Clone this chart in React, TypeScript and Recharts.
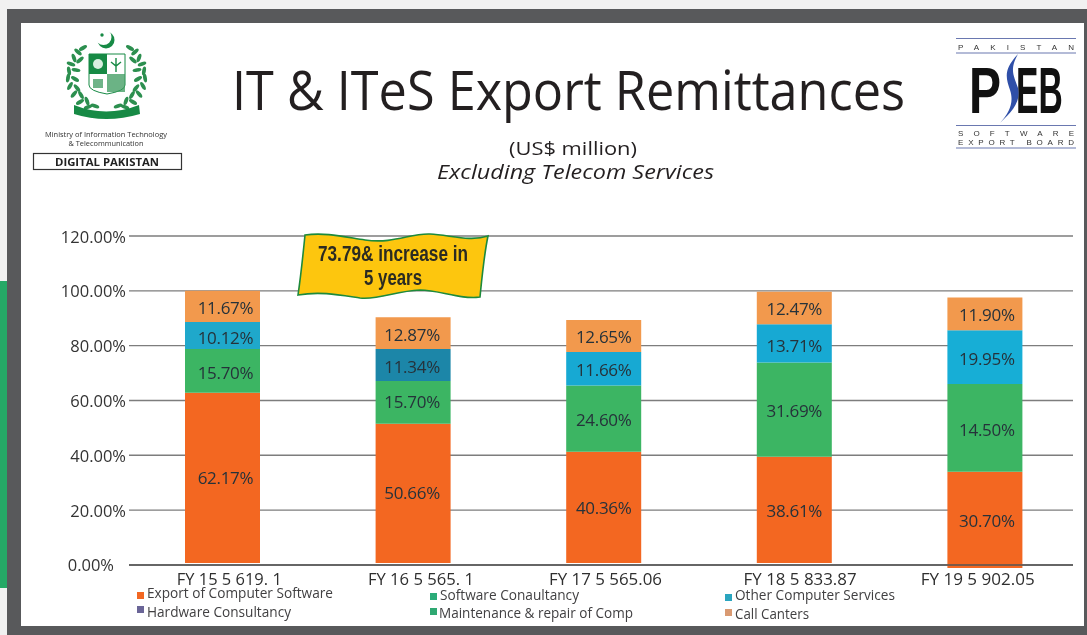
import React from "react";
import { BarChart, Bar, XAxis, YAxis, CartesianGrid, LabelList, Cell, ReferenceLine } from "recharts";

const categories = ["FY 15 5 619. 1", "FY 16 5 565. 1", "FY 17 5 565.06", "FY 18 5 833.87", "FY 19 5 902.05"];
const baseGap = [0.7, 0.7, 0.7, 0.7, -1.1];
const exportSoftware = [62.1, 50.8, 40.6, 38.8, 35.1];
const maintenance = [16.0, 15.6, 24.2, 34.4, 32.0];
const otherServices = [9.8, 11.7, 12.2, 13.9, 19.6];
const callCenters = [11.4, 11.6, 11.7, 11.9, 12.0];
const exportLabels = ["62.17%", "50.66%", "40.36%", "38.61%", "30.70%"];
const maintenanceLabels = ["15.70%", "15.70%", "24.60%", "31.69%", "14.50%"];
const otherLabels = ["10.12%", "11.34%", "11.66%", "13.71%", "19.95%"];
const callLabels = ["11.67%", "12.87%", "12.65%", "12.47%", "11.90%"];
const yTicks = [0, 20, 40, 60, 80, 100, 120];
const legendNames = ["Export of Computer Software", "Hardware Consultancy", "Software Conaultancy", "Maintenance & repair of Comp", "Other Computer Services", "Call Canters"];

const rows = categories.map((name, i) => ({
  name,
  base: baseGap[i],
  exportSoftware: exportSoftware[i],
  maintenance: maintenance[i],
  otherServices: otherServices[i],
  callCenters: callCenters[i],
}));

const FONT = "'Open Sans', 'Noto Sans', sans-serif";
const NARROW = "'Liberation Sans Narrow', 'Liberation Sans', sans-serif";
const otherFills = ["#1fa8cb", "#1c86a8", "#17a9d3", "#17a9d3", "#17aed6"];
const legendStyle = [
  { x: 147, y: 598, sx: 137, sy: 592, c: "#f26722", w: 186 },
  { x: 147, y: 617, sx: 137, sy: 606, c: "#6a6597", w: 144 },
  { x: 440, y: 600, sx: 430, sy: 593, c: "#2bab78", w: 139 },
  { x: 439, y: 618, sx: 430, sy: 608, c: "#2fa872", w: 194 },
  { x: 735, y: 600, sx: 725, sy: 594, c: "#2aa5bf", w: 160 },
  { x: 735, y: 619, sx: 725, sy: 609, c: "#d99a72", w: 74 },
];
const labelDx = [3, -1, 0, 0, 2];
const tickDx = [7, 8, 2, 6, -7];
const tickW = [105, 106, 113, 113, 114];

const labelFor = (labels: string[], dy: number[]) => (p: any) => {
  const cx = p.x + p.width / 2 + labelDx[p.index];
  const cy = p.y + p.height / 2 + dy[p.index];
  return (
    <text x={cx} y={cy + 1} textAnchor="middle" dominantBaseline="central" fontFamily={FONT} fontSize={17} fill="#26323a" letterSpacing={-0.3}>
      {labels[p.index]}
    </text>
  );
};

const wreath = [
  [78, 52, 40], [83, 48, -30], [74, 58, 70], [71, 64, 20], [80, 60, -40], [69, 71, 80], [76, 70, 10], [68, 78, 100], [75, 79, 30],
  [70, 86, 120], [77, 88, 50], [74, 94, 130], [81, 95, 60], [80, 102, 150], [87, 101, 70], [88, 107, 160], [95, 106, 20],
  [135, 52, -40], [130, 48, 30], [139, 58, -70], [142, 64, -20], [133, 60, 40], [144, 71, -80], [137, 70, -10], [145, 78, -100], [138, 79, -30],
  [143, 86, -120], [136, 88, -50], [139, 94, -130], [132, 95, -60], [133, 102, -150], [126, 101, -70], [125, 107, -160], [118, 106, -20],
];

function Emblem() {
  return (
    <g>
      <circle cx={106} cy={40} r={8.5} fill="#178a45" />
      <circle cx={103.5} cy={37} r={8} fill="#fff" />
      <circle cx={102} cy={35} r={1.7} fill="#178a45" />
      {wreath.map(([x, y, r], i) => (
        <ellipse key={i} cx={x} cy={y} rx={4.5} ry={1.9} fill="#2c8f4f" transform={`rotate(${r} ${x} ${y})`} />
      ))}
      <path d="M89 54 H125 V85 Q125 91 107 94 Q89 91 89 85 Z" fill="#fff" stroke="#178a45" strokeWidth={1} />
      <rect x={89} y={54} width={18} height={20} fill="#178a45" />
      <rect x={107} y={74} width={18} height={18} fill="#3a9a5c" opacity={0.75} />
      <path d="M116 58 V72 M111 62 L116 66 L121 62" stroke="#178a45" strokeWidth={1.4} fill="none" />
      <rect x={93} y={79} width={10} height={9} fill="#6fb489" />
      <circle cx={98} cy={64} r={5} fill="#d9efe0" />
      <path d="M74 105 Q106 118 139 105 L140 114 Q106 124 74 114 Z" fill="#178a45" />
    </g>
  );
}

function Overlay() {
  return (
    <svg width={1087} height={635} style={{ position: "absolute", left: 0, top: 0, pointerEvents: "none" }}>
      <Emblem />
      <text x={106} y={137} textAnchor="middle" fontFamily={FONT} fontSize={7} fill="#333" textLength={122} lengthAdjust="spacingAndGlyphs">Ministry of Information Technology</text>
      <text x={106} y={146} textAnchor="middle" fontFamily={FONT} fontSize={7} fill="#333" textLength={75} lengthAdjust="spacingAndGlyphs">&amp; Telecommunication</text>
      <rect x={33.5} y={153.5} width={148} height={16} fill="#fff" stroke="#333" strokeWidth={1.2} />
      <text x={107} y={165.5} textAnchor="middle" fontFamily={FONT} fontSize={11} fontWeight={700} fill="#222" textLength={104} lengthAdjust="spacingAndGlyphs">DIGITAL PAKISTAN</text>

      <text x={232} y={110} fontFamily={FONT} fontSize={54} fill="#231f20" textLength={673} lengthAdjust="spacingAndGlyphs">IT &amp; ITeS Export Remittances</text>
      <text x={573} y={155} textAnchor="middle" fontFamily={FONT} fontSize={18} fill="#231f20" textLength={128} lengthAdjust="spacingAndGlyphs">(US$ million)</text>
      <text x={437} y={179} fontFamily={FONT} fontSize={20} fontStyle="italic" fill="#231f20" textLength={277} lengthAdjust="spacingAndGlyphs">Excluding Telecom Services</text>

      <path d="M956 38.5 H1076 M956 53 H1076 M956 125.5 H1076 M956 148 H1076" stroke="#6a78b0" strokeWidth={1.2} />
      <text x={958} y={50} fontFamily="'Liberation Sans', sans-serif" fontSize={8} fill="#333" textLength={116}>PAKISTAN</text>
      <text x={958} y={136} fontFamily="'Liberation Sans', sans-serif" fontSize={8} fill="#333" textLength={116}>SOFTWARE</text>
      <text x={958} y={145} fontFamily="'Liberation Sans', sans-serif" fontSize={8} fill="#333" textLength={116}>EXPORT BOARD</text>
      <text transform="translate(969,113) scale(1,1.36)" fontFamily={NARROW} fontSize={48} fill="#111" fontWeight={700}>P</text>
      <text transform="translate(1016,113) scale(0.7,1.36)" fontFamily={NARROW} fontSize={48} fill="#111" fontWeight={700}>EB</text>
      <path d="M1018 54 C1003 70 1006 78 1010 90 C1014 102 1010 112 1000 123 C1012 112 1021 102 1018 88 C1014 76 1009 70 1018 54 Z" fill="#2f4fa8" />

      <path
        d="M305 235 C325 232 345 237 365 240 C395 244 410 233 430 234 C450 235 470 242 488 236 C484 255 482 277 480 297 C460 300 440 290 420 290 C395 291 380 300 360 298 C340 295 320 291 298 295 C301 275 303 255 305 235 Z"
        fill="#fdc60e"
        stroke="#1d8a3c"
        strokeWidth={1.6}
      />
      <text x={393} y={261} textAnchor="middle" fontFamily={NARROW} fontSize={22} fontWeight={700} fill="#2b2b22" textLength={150} lengthAdjust="spacingAndGlyphs">73.79&amp; increase in</text>
      <text x={393} y={285} textAnchor="middle" fontFamily={NARROW} fontSize={22} fontWeight={700} fill="#2b2b22" textLength={58} lengthAdjust="spacingAndGlyphs">5 years</text>

      {legendNames.map((n, i) => {
        const s = legendStyle[i];
        return (
          <g key={n}>
            <rect x={s.sx} y={s.sy} width={7} height={7} fill={s.c} />
            <text x={s.x} y={s.y} fontFamily={FONT} fontSize={14} fill="#414042" textLength={s.w} lengthAdjust="spacingAndGlyphs">{n}</text>
          </g>
        );
      })}
    </svg>
  );
}

const XTick = (p: any) => (
  <text x={p.x + tickDx[p.index]} y={p.y + 9} textAnchor="middle" fontFamily={FONT} fontSize={16} fill="#2f2f2f" textLength={tickW[p.index]} lengthAdjust="spacingAndGlyphs">
    {p.payload.value}
  </text>
);

const YTick = (p: any) => (
  <text x={p.payload.value === 0 ? p.x - 12 : p.x} y={p.y} textAnchor="end" dominantBaseline="central" fontFamily={FONT} fontSize={16.5} fill="#333">
    {`${p.payload.value.toFixed(2)}%`}
  </text>
);

export default function App() {
  return (
    <div style={{ position: "absolute", left: 0, top: 0, width: 1087, height: 635, background: "#f1f1f1", overflow: "hidden", filter: "blur(0.3px)" }}>
      <div style={{ position: "absolute", left: 0, top: 281, width: 7, height: 307, background: "#25a866" }} />
      <div style={{ position: "absolute", left: 7, top: 9, right: 0, bottom: 0, background: "#58595b" }} />
      <div style={{ position: "absolute", left: 21, top: 23, width: 1063, height: 603, background: "#fff" }} />
      <div style={{ position: "absolute", left: 0, top: 0 }}>
        <BarChart width={1087} height={635} data={rows} margin={{ left: 0, right: 14, top: 236, bottom: 37 }} barSize={75}>
          <CartesianGrid vertical={false} stroke="#7d7d7d" strokeWidth={1.4} horizontalValues={yTicks} />
          <ReferenceLine y={0} stroke="#555" strokeWidth={1.5} />
          <XAxis dataKey="name" height={30} axisLine={false} tickLine={false} interval={0} tick={XTick} padding={{ left: -2, right: -7 }} />
          <YAxis width={129} domain={[0, 120]} ticks={yTicks} axisLine={false} tickLine={false} tickSize={0} tickMargin={3} tick={YTick} />
          <Bar dataKey="base" stackId="s" fill="transparent" isAnimationActive={false} legendType="none" />
          <Bar dataKey="exportSoftware" name={legendNames[0]} stackId="s" fill="#f36721" isAnimationActive={false}>
            <LabelList content={labelFor(exportLabels, [-1, -2, -1, 0, 0])} />
          </Bar>
          <Bar dataKey="maintenance" name={legendNames[3]} stackId="s" fill="#3cb563" isAnimationActive={false}>
            <LabelList content={labelFor(maintenanceLabels, [1, -2, 0, 0, 1])} />
          </Bar>
          <Bar dataKey="otherServices" name={legendNames[4]} stackId="s" isAnimationActive={false}>
            {categories.map((c, i) => (
              <Cell key={c} fill={otherFills[i]} />
            ))}
            <LabelList content={labelFor(otherLabels, [1, 1, 0, 1, 0])} />
          </Bar>
          <Bar dataKey="callCenters" name={legendNames[5]} stackId="s" fill="#f2994d" isAnimationActive={false}>
            <LabelList content={labelFor(callLabels, [0, 0, 0, 0, 0])} />
          </Bar>
        </BarChart>
      </div>
      <Overlay />
    </div>
  );
}
